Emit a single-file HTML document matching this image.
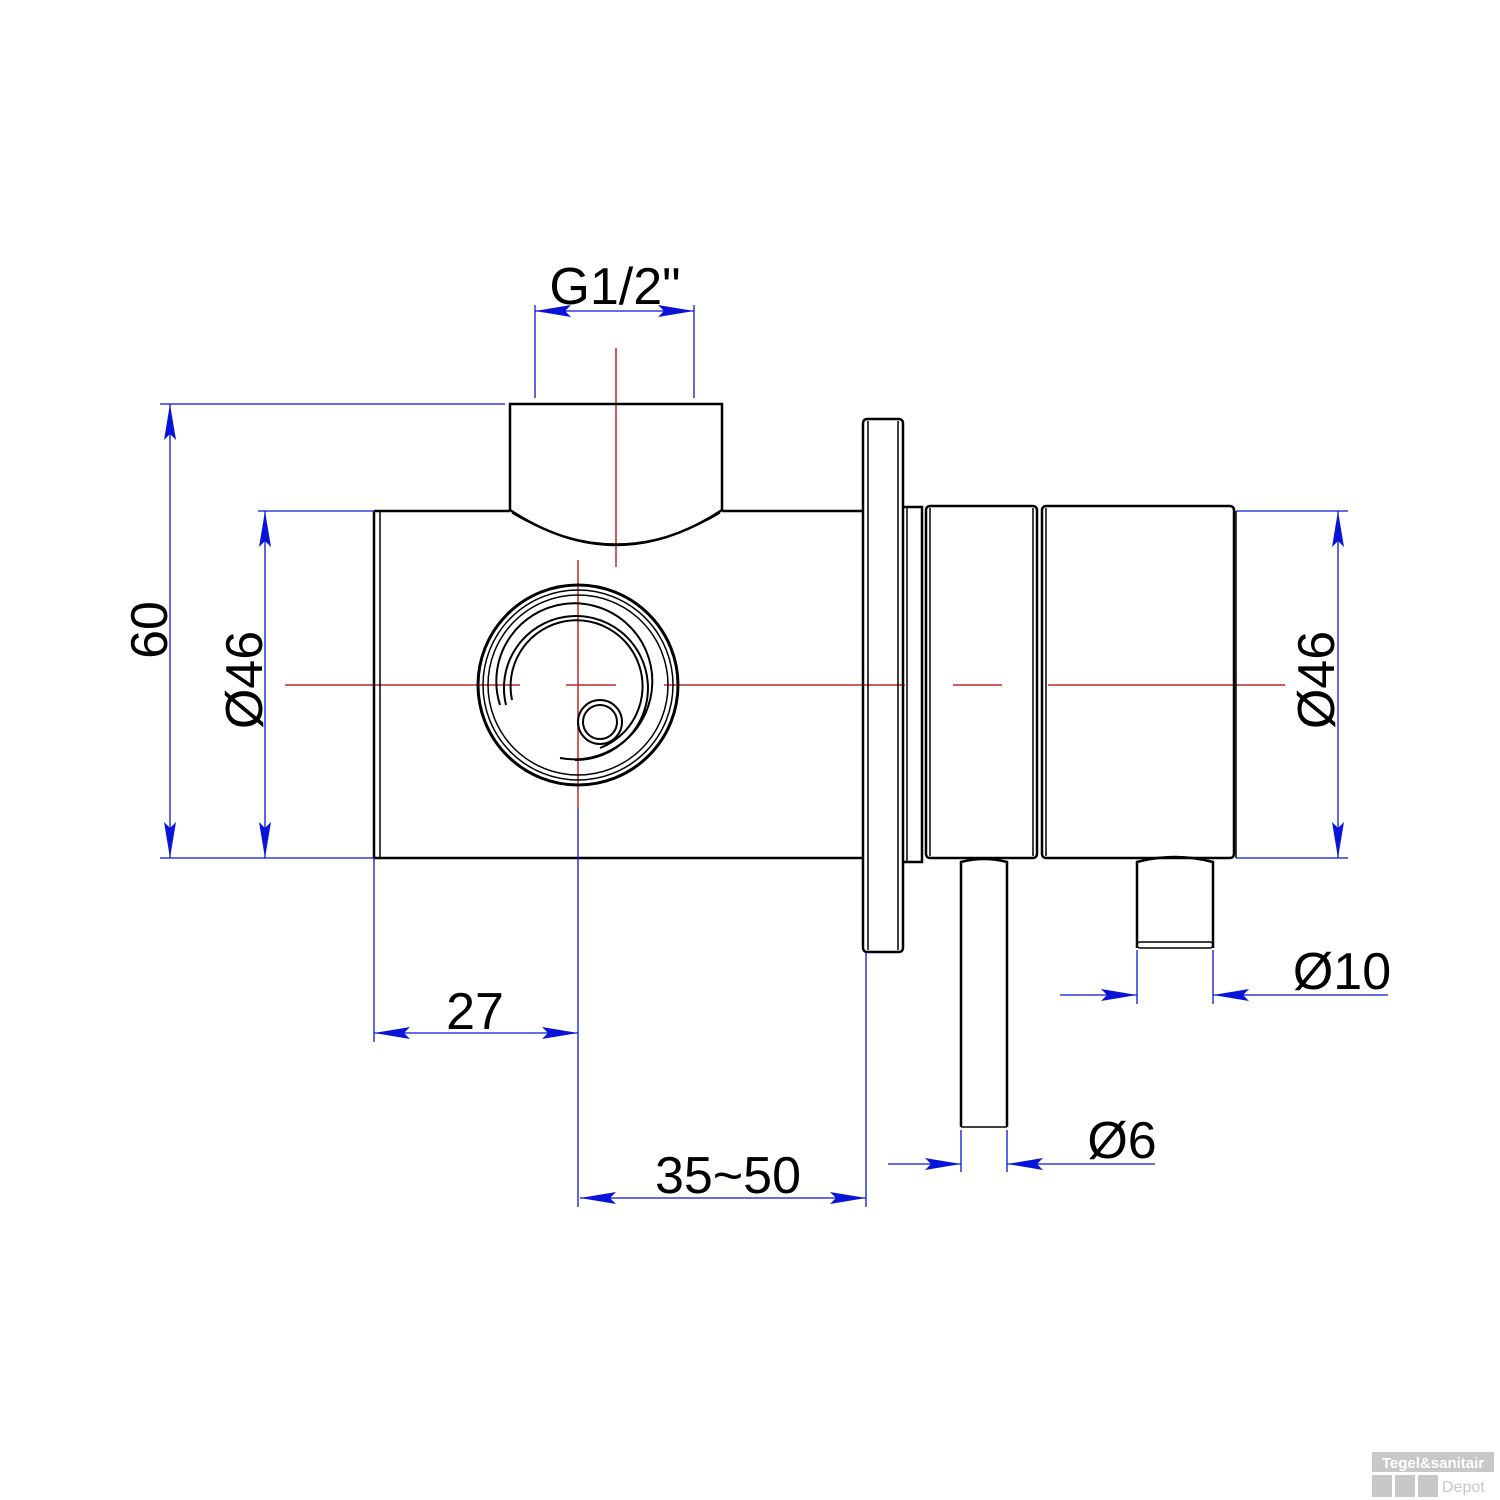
<!DOCTYPE html>
<html><head><meta charset="utf-8"><style>html,body{margin:0;padding:0;background:#fff}svg{display:block}</style></head><body>
<svg width="1500" height="1500" viewBox="0 0 1500 1500" xmlns="http://www.w3.org/2000/svg">
<defs>
<marker id="a" viewBox="0 0 36 12" refX="36" refY="6" markerWidth="36" markerHeight="12" markerUnits="userSpaceOnUse" orient="auto"><path d="M0,0 L36,6 L0,12 L6,6 Z" fill="#0a14d8"/></marker>
</defs>
<rect width="1500" height="1500" fill="#fff"/>
<g stroke="#c0282a" stroke-width="1.5">
<line x1="285" y1="685" x2="520" y2="685"/>
<line x1="566" y1="685" x2="616" y2="685"/>
<line x1="664" y1="685" x2="905" y2="685"/>
<line x1="953" y1="685" x2="1002" y2="685"/>
<line x1="1048" y1="685" x2="1285" y2="685"/>
<line x1="616" y1="348" x2="616" y2="567"/>
<line x1="578" y1="560" x2="578" y2="808"/>
</g>
<g stroke="#000" stroke-width="2.5" fill="none">
<line x1="374" y1="511" x2="510" y2="511"/>
<line x1="722" y1="511" x2="862" y2="511"/>
<line x1="374" y1="858" x2="862" y2="858"/>
<line x1="374" y1="511" x2="374" y2="858"/>
<line x1="380" y1="511" x2="380" y2="858" stroke-width="1.5"/>
<path d="M510,404 L722,404 L722,510 Q616,580 510,510 Z"/>
<path d="M512,513 Q616,575 720,513" stroke-width="1.5"/>
<rect x="863" y="419" width="40" height="533" rx="4"/>
<line x1="868" y1="421" x2="868" y2="950" stroke-width="1.5"/>
<line x1="898" y1="421" x2="898" y2="950" stroke-width="1.5"/>
<path d="M903,507 L922,507 L922,862 L903,862"/>
<line x1="907" y1="507" x2="907" y2="862" stroke-width="1.5"/>
<rect x="926" y="506" width="111" height="352" rx="4"/>
<line x1="930" y1="508" x2="930" y2="856" stroke-width="1.5"/>
<line x1="1033" y1="508" x2="1033" y2="856" stroke-width="1.5"/>
<rect x="1042" y="506" width="192" height="352" rx="4"/>
<line x1="1046" y1="508" x2="1046" y2="856" stroke-width="1.5"/>
<line x1="1236" y1="511" x2="1236" y2="858" stroke-width="1.5"/>
<path d="M961,1127 L961,862 Q984,856 1007,862 L1007,1127"/>
<line x1="961" y1="1127" x2="1007" y2="1127" stroke-width="1.5"/>
<path d="M1137,948 L1137,862 Q1175,852 1213,862 L1213,948"/>
<rect x="1137" y="942" width="76" height="6" rx="3" stroke-width="1.5"/>
<circle cx="578" cy="685" r="100" stroke-width="3"/>
<circle cx="578" cy="685" r="95" stroke-width="1.5"/>
<circle cx="578" cy="685" r="90" stroke-width="1.5"/>
<path d="M500,705 A78,78 0 1 1 560,758" stroke-width="2"/>
<path d="M506,705 A72,72 0 1 1 575,760" stroke-width="2"/>
<path d="M512,700 A66,66 0 1 1 600,748" stroke-width="2"/>
<circle cx="600" cy="722" r="22" stroke-width="2"/>
<circle cx="600" cy="722" r="17" stroke-width="2"/>
</g>
<g stroke="#0a14d8" stroke-width="1.3" fill="none">
<line x1="535" y1="305" x2="535" y2="398"/>
<line x1="694" y1="305" x2="694" y2="398"/>
<line x1="615" y1="311" x2="535" y2="311" marker-end="url(#a)"/>
<line x1="615" y1="311" x2="694" y2="311" marker-end="url(#a)"/>
<line x1="160" y1="404" x2="505" y2="404"/>
<line x1="160" y1="858" x2="374" y2="858"/>
<line x1="170" y1="630" x2="170" y2="404" marker-end="url(#a)"/>
<line x1="170" y1="630" x2="170" y2="858" marker-end="url(#a)"/>
<line x1="258" y1="511" x2="374" y2="511"/>
<line x1="265" y1="685" x2="265" y2="511" marker-end="url(#a)"/>
<line x1="265" y1="685" x2="265" y2="858" marker-end="url(#a)"/>
<line x1="1236" y1="511" x2="1348" y2="511"/>
<line x1="1236" y1="858" x2="1348" y2="858"/>
<line x1="1338" y1="685" x2="1338" y2="511" marker-end="url(#a)"/>
<line x1="1338" y1="685" x2="1338" y2="858" marker-end="url(#a)"/>
<line x1="374" y1="858" x2="374" y2="1042"/>
<line x1="578" y1="808" x2="578" y2="1207"/>
<line x1="476" y1="1033" x2="374" y2="1033" marker-end="url(#a)"/>
<line x1="476" y1="1033" x2="578" y2="1033" marker-end="url(#a)"/>
<line x1="866" y1="952" x2="866" y2="1207"/>
<line x1="722" y1="1198" x2="580" y2="1198" marker-end="url(#a)"/>
<line x1="722" y1="1198" x2="866" y2="1198" marker-end="url(#a)"/>
<line x1="961" y1="1130" x2="961" y2="1172"/>
<line x1="1007" y1="1130" x2="1007" y2="1172"/>
<line x1="888" y1="1164" x2="961" y2="1164" marker-end="url(#a)"/>
<line x1="1155" y1="1164" x2="1007" y2="1164" marker-end="url(#a)"/>
<line x1="1137" y1="950" x2="1137" y2="1004"/>
<line x1="1213" y1="950" x2="1213" y2="1004"/>
<line x1="1060" y1="995" x2="1137" y2="995" marker-end="url(#a)"/>
<line x1="1388" y1="995" x2="1213" y2="995" marker-end="url(#a)"/>
</g>
<g font-family="Liberation Sans, Arial, sans-serif" font-size="52" fill="#000" text-anchor="middle">
<text x="615" y="304">G1/2"</text>
<text x="475" y="1029">27</text>
<text x="728" y="1193">35~50</text>
<text x="1122" y="1158">Ø6</text>
<text x="1342" y="989">Ø10</text>
<text transform="translate(167,630) rotate(-90)">60</text>
<text transform="translate(262,680) rotate(-90)">Ø46</text>
<text transform="translate(1334,680) rotate(-90)">Ø46</text>
</g>
<rect x="1372" y="1452" width="122" height="20" fill="#c8c8c8"/>
<text x="1433" y="1468" font-family="Liberation Sans, sans-serif" font-weight="bold" font-size="15" fill="#fff" text-anchor="middle">Tegel&amp;sanitair</text>
<rect x="1372" y="1475" width="20" height="22" fill="#c8c8c8"/>
<rect x="1395" y="1475" width="20" height="22" fill="#c8c8c8"/>
<rect x="1418" y="1475" width="20" height="22" fill="#c8c8c8"/>
<text x="1442" y="1492" font-family="Liberation Sans, sans-serif" font-size="16" fill="#c8c8c8">Depot</text>
</svg>
</body></html>
